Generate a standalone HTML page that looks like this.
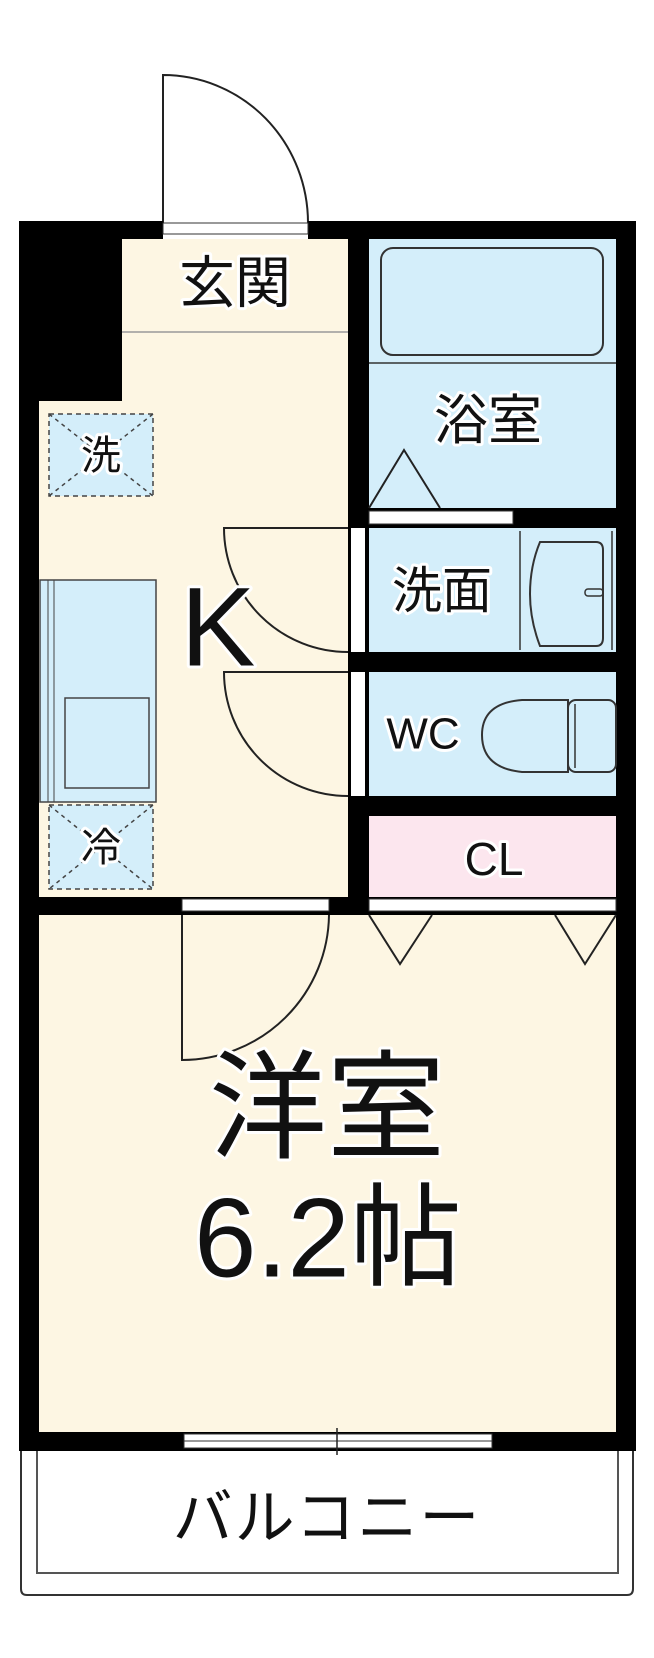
<!DOCTYPE html>
<html><head><meta charset="utf-8"><style>
html,body{margin:0;padding:0;background:#fff;}
svg{display:block;}
text{font-family:"Liberation Sans","Noto Sans CJK JP",sans-serif;fill:#111;text-anchor:middle;dominant-baseline:central;paint-order:stroke;stroke:#fff;stroke-width:6px;stroke-linejoin:round;}
</style></head><body>
<svg width="654" height="1658" viewBox="0 0 654 1658" xmlns="http://www.w3.org/2000/svg">
<rect width="654" height="1658" fill="#fff"/>
<!-- entrance door -->
<path d="M163,223 V75 A145,148 0 0 1 308,223" fill="none" stroke="#222" stroke-width="2"/>
<!-- floors -->
<rect x="39" y="239" width="309" height="660" fill="#fdf6e3"/>
<rect x="39" y="915" width="577" height="517" fill="#fdf6e3"/>
<rect x="369" y="239" width="247" height="269" fill="#d4eefa"/>
<rect x="369" y="528" width="247" height="124" fill="#d4eefa"/>
<rect x="369" y="672" width="247" height="124" fill="#d4eefa"/>
<rect x="369" y="816" width="247" height="83" fill="#fce6ee"/>
<line x1="122" y1="332" x2="348" y2="332" stroke="#999" stroke-width="1.5"/>
<!-- walls -->
<g fill="#000">
<rect x="19" y="221" width="144" height="18"/>
<rect x="308" y="221" width="328" height="18"/>
<rect x="19" y="221" width="103" height="180"/>
<rect x="19" y="221" width="20" height="1230"/>
<rect x="616" y="221" width="20" height="1230"/>
<rect x="348" y="221" width="21" height="694"/>
<rect x="369" y="508" width="267" height="20"/>
<rect x="369" y="652" width="267" height="20"/>
<rect x="369" y="796" width="267" height="20"/>
<rect x="19" y="897" width="617" height="18"/>
<rect x="19" y="1432" width="617" height="19"/>
</g>
<!-- white strips (doors/windows) -->
<g fill="#fff" stroke="#333" stroke-width="1">
<rect x="163" y="223" width="145" height="11"/>
<rect x="369" y="511" width="144" height="13"/>
<rect x="351" y="528" width="14" height="124" stroke="none"/>
<rect x="351" y="672" width="14" height="124" stroke="none"/>
<rect x="182" y="899" width="147" height="12"/>
<rect x="369" y="899" width="247" height="12"/>
<rect x="184" y="1434" width="308" height="7"/>
<rect x="184" y="1441" width="308" height="7"/>
</g>
<line x1="337" y1="1428" x2="337" y2="1455" stroke="#222" stroke-width="1.5"/>
<!-- bath -->
<rect x="381" y="248" width="222" height="107" rx="12" fill="none" stroke="#333" stroke-width="2"/>
<line x1="369" y1="363" x2="616" y2="363" stroke="#333" stroke-width="1.5"/>
<path d="M369,508 L404,450 L440,508" fill="none" stroke="#222" stroke-width="2"/>
<!-- sink -->
<line x1="520" y1="531" x2="520" y2="650" stroke="#333" stroke-width="1.5"/>
<line x1="612" y1="531" x2="612" y2="650" stroke="#333" stroke-width="1.5"/>
<path d="M540,542 H596 Q603,542 603,550 V638 Q603,646 596,646 H540 Q530,620 530,594 Q530,566 540,542 Z" fill="none" stroke="#333" stroke-width="2"/>
<rect x="585" y="589" width="18" height="7" rx="3" fill="none" stroke="#333" stroke-width="1.5"/>
<!-- toilet -->
<path d="M568,700 H522 Q482,703 482,735 Q482,768 522,772 H568 Z" fill="none" stroke="#333" stroke-width="2"/>
<rect x="568" y="700" width="48" height="72" rx="8" fill="none" stroke="#333" stroke-width="2"/>
<line x1="575" y1="704" x2="575" y2="768" stroke="#333" stroke-width="1.5"/>
<!-- K doors -->
<path d="M348,528 H224 A124,124 0 0 0 348,652" fill="none" stroke="#222" stroke-width="2"/>
<path d="M348,672 H224 A124,124 0 0 0 348,796" fill="none" stroke="#222" stroke-width="2"/>
<!-- washer / fridge -->
<g stroke="#444" stroke-width="1.5">
<rect x="49" y="414" width="104" height="82" fill="#d4eefa" stroke-dasharray="5,4"/>
<line x1="49" y1="414" x2="153" y2="496" stroke-dasharray="4,4"/>
<line x1="153" y1="414" x2="49" y2="496" stroke-dasharray="4,4"/>
<rect x="49" y="805" width="104" height="84" fill="#d4eefa" stroke-dasharray="5,4"/>
<line x1="49" y1="805" x2="153" y2="889" stroke-dasharray="4,4"/>
<line x1="153" y1="805" x2="49" y2="889" stroke-dasharray="4,4"/>
</g>
<!-- counter -->
<rect x="40" y="580" width="116" height="222" fill="#d4eefa" stroke="#444" stroke-width="1.5"/>
<line x1="48" y1="580" x2="48" y2="802" stroke="#444" stroke-width="1"/>
<line x1="54" y1="580" x2="54" y2="802" stroke="#444" stroke-width="1"/>
<rect x="65" y="698" width="84" height="90" fill="none" stroke="#444" stroke-width="1.5"/>
<!-- room door -->
<path d="M329,915 A147,147 0 0 1 182,1060 V915" fill="none" stroke="#222" stroke-width="2"/>
<!-- closet doors -->
<path d="M369,915 L400,964 L432,915 M555,915 L585,964 L616,915" fill="none" stroke="#222" stroke-width="2"/>
<!-- balcony -->
<path d="M21,1451 V1589 Q21,1595 27,1595 H627 Q633,1595 633,1589 V1451" fill="none" stroke="#333" stroke-width="2"/>
<path d="M37,1451 V1573 H618 V1451" fill="none" stroke="#555" stroke-width="2"/>
<!-- labels -->
<text x="235" y="283" font-size="56">玄関</text>
<text x="488" y="421" font-size="54">浴室</text>
<text x="101" y="456" font-size="40">洗</text>
<text x="101" y="848" font-size="40">冷</text>
<text x="218" y="627" font-size="112">K</text>
<text x="442" y="591" font-size="50">洗面</text>
<text x="423" y="734" font-size="44">WC</text>
<text x="494" y="859" font-size="46">CL</text>
<text x="327" y="1109" font-size="118">洋室</text>
<text x="328" y="1238" font-size="112">6.2帖</text>
<text x="327" y="1518" font-size="60" letter-spacing="2">バルコニー</text>
</svg>
</body></html>
